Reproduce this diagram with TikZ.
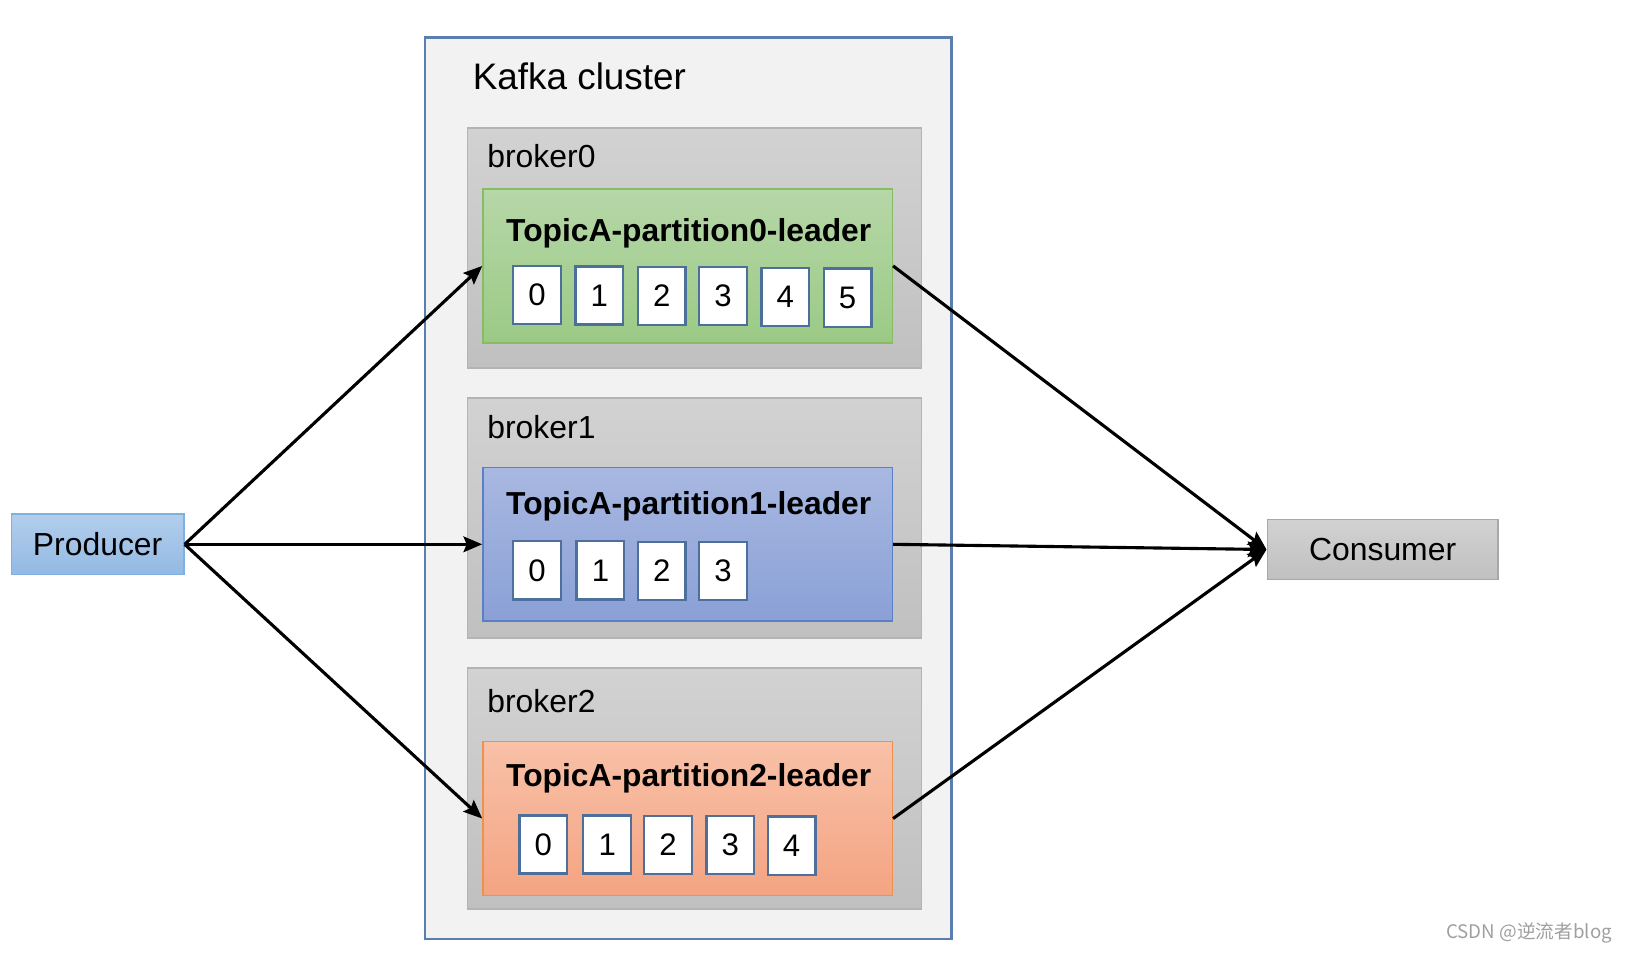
\documentclass[tikz,border=0pt]{standalone}
\usepackage{fontspec}
\setmainfont{Liberation Sans}
\newfontfamily\cjk{Noto Sans CJK SC}
\usetikzlibrary{arrows.meta}
\definecolor{clusterline}{HTML}{5A7FAE}
\definecolor{clusterfill}{HTML}{F2F2F2}
\definecolor{brokerline}{HTML}{B4B4B4}
\definecolor{brokertop}{HTML}{D2D2D2}
\definecolor{brokerbot}{HTML}{C0C0C0}
\definecolor{greenline}{HTML}{86BD63}
\definecolor{greentop}{HTML}{B6D7A8}
\definecolor{greenbot}{HTML}{9BCA85}
\definecolor{blueline}{HTML}{5B7FC6}
\definecolor{bluetop}{HTML}{A8B8E1}
\definecolor{bluebot}{HTML}{8AA0D6}
\definecolor{orangeline}{HTML}{F0904F}
\definecolor{orangetop}{HTML}{F8C1A8}
\definecolor{orangebot}{HTML}{F4A482}
\definecolor{cellline}{HTML}{4C6F9C}
\definecolor{prodline}{HTML}{7EB0E2}
\definecolor{prodtop}{HTML}{B2CEEC}
\definecolor{prodbot}{HTML}{93BAE3}
\definecolor{consline}{HTML}{A8A8A8}
\tikzset{
  box/.style={rectangle, inner sep=0pt},
  cluster/.style={box, draw=clusterline, fill=clusterfill, line width=2.5pt, minimum width=507pt, minimum height=868pt},
  broker/.style={box, draw=brokerline, top color=brokertop, bottom color=brokerbot, line width=1.5pt, minimum width=437pt, minimum height=231pt},
  part/.style={box, line width=1.5pt, minimum width=394pt, minimum height=148pt},
  greenpart/.style={part, draw=greenline, top color=greentop, bottom color=greenbot},
  bluepart/.style={part, draw=blueline, top color=bluetop, bottom color=bluebot},
  orangepart/.style={part, draw=orangeline, top color=orangetop, bottom color=orangebot},
  cell/.style={box, draw=cellline, fill=white, line width=2.2pt, minimum width=46pt, minimum height=56pt, font=\fontsize{30}{36}\selectfont},
  lbl/.style={inner sep=0pt, anchor=base west, font=\fontsize{30.7}{36}\selectfont},
  ttl/.style={inner sep=0pt, font=\fontsize{30.6}{36}\selectfont\bfseries},
  endbox/.style={box, line width=1.5pt, minimum height=58pt, font=\fontsize{30.7}{36}\selectfont},
  arr/.style={line width=3pt, -{Stealth[length=18pt,width=15pt,inset=3pt]}}
}
\begin{document}
\begin{tikzpicture}[x=1pt,y=-1pt]
\useasboundingbox (0,0) rectangle (1568.2,917.4);
% cluster
\node[cluster] (cluster) at (662.5,470) {};
\node[inner sep=0pt, anchor=base west, font=\fontsize{35.5}{40}\selectfont] (clusterlbl) at (455,86) {Kafka cluster};
% brokers
\node[broker] (b0) at (668.5,238.5) {};
\node[broker] (b1) at (668.5,498.5) {};
\node[broker, minimum height=232pt] (b2) at (668.5,759) {};
\node[lbl] (b0l) at (469,161) {broker0};
\node[lbl] (b1l) at (469,422) {broker1};
\node[lbl] (b2l) at (469,686) {broker2};
% partitions
\node[greenpart] (p0) at (662,256) {};
\node[bluepart] (p1) at (662,524) {};
\node[orangepart] (p2) at (662,788) {};
\node[ttl] (p0t) at (663,225) {TopicA-partition0-leader};
\node[ttl] (p1t) at (663,487) {TopicA-partition1-leader};
\node[ttl] (p2t) at (663,749) {TopicA-partition2-leader};
% cells partition0
\node[cell] (c00) at (517,284) {0};
\node[cell] (c01) at (577,284.5) {1};
\node[cell] (c02) at (637,285) {2};
\node[cell] (c03) at (696,285) {3};
\node[cell] (c04) at (756,286) {4};
\node[cell] (c05) at (816,286.5) {5};
% cells partition1
\node[cell] (c10) at (517,549) {0};
\node[cell] (c11) at (578,549) {1};
\node[cell] (c12) at (637,549.5) {2};
\node[cell] (c13) at (696,549.5) {3};
% cells partition2
\node[cell] (c20) at (523,813) {0};
\node[cell] (c21) at (584.5,813) {1};
\node[cell] (c22) at (643,813.5) {2};
\node[cell] (c23) at (703,813.5) {3};
\node[cell] (c24) at (762,814) {4};
% producer / consumer
\node[endbox, draw=prodline, top color=prodtop, bottom color=prodbot, minimum width=166pt] (prod) at (94,524) {Producer};
\node[endbox, draw=consline, top color=brokertop, bottom color=brokerbot, minimum width=222pt] (cons) at (1331,529) {Consumer};
% arrows
\draw[arr] (prod.east) -- (p0.west);
\draw[arr] (prod.east) -- (p1.west);
\draw[arr] (prod.east) -- (p2.west);
\draw[arr] (p0.east) -- (cons.west);
\draw[arr] (p1.east) -- (cons.west);
\draw[arr] (p2.east) -- (cons.west);
% watermark
\node[inner sep=0pt, text=gray!75, font=\cjk\fontsize{18}{21}\selectfont] (wm) at (1472,898) {CSDN @逆流者blog};
\end{tikzpicture}
\end{document}
